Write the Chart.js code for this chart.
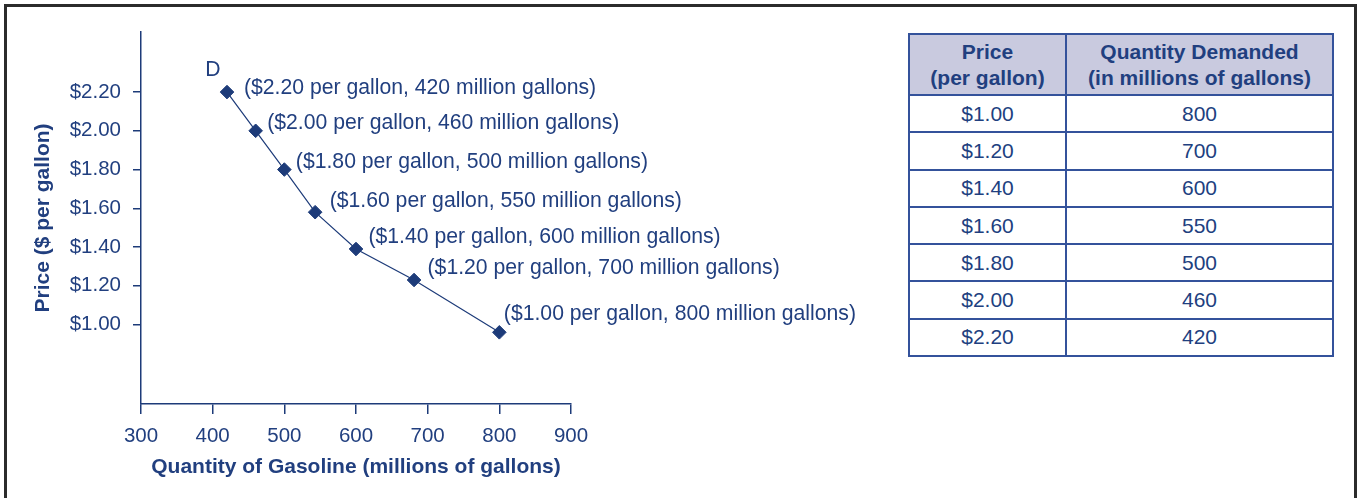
<!DOCTYPE html>
<html>
<head>
<meta charset="utf-8">
<script src="https://cdn.jsdelivr.net/npm/chart.js@4.4.0/dist/chart.umd.min.js"></script>
<style>
html,body{margin:0;padding:0;background:#fff;width:1359px;height:498px;overflow:hidden;}
#frame{position:absolute;left:4px;top:4px;width:1353px;height:600px;border:3px solid #2b2b2b;box-sizing:border-box;}
#wrap{position:absolute;left:0;top:0;width:900px;height:498px;}
#tbl{position:absolute;left:908px;top:33px;width:424px;border-collapse:collapse;table-layout:fixed;
  font-family:"Liberation Sans",Arial,Helvetica,sans-serif;color:#213f7f;font-size:21px;}
#tbl th,#tbl td{border:2px solid #34529b;text-align:center;padding:0;}
#tbl th{background:#c9cadf;font-weight:bold;line-height:26px;height:59px;}
#tbl td{height:35.3px;line-height:24px;}
</style>
</head>
<body>
<div id="frame"></div>
<div id="wrap"><canvas id="c" width="900" height="498"></canvas></div>
<table id="tbl"><colgroup><col style="width:157px"><col style="width:267px"></colgroup><thead></thead><tbody></tbody></table>
<script>
// ---- data ----
const curveName = 'D';
const plotQuantities = [420, 460, 500, 543, 600, 681, 800];   // plotted x positions (millions of gallons)
const plotPrices = [2.20, 2.00, 1.80, 1.58, 1.39, 1.23, 0.96]; // plotted y positions ($ per gallon)
const labelPrices = [2.20, 2.00, 1.80, 1.60, 1.40, 1.20, 1.00];
const labelQuantities = [420, 460, 500, 550, 600, 700, 800];
const xTickValues = [300, 400, 500, 600, 700, 800, 900];
const yTickValues = [1.00, 1.20, 1.40, 1.60, 1.80, 2.00, 2.20];
const tableHeaders = [['Price', '(per gallon)'], ['Quantity Demanded', '(in millions of gallons)']];
const tablePrices = [1.00, 1.20, 1.40, 1.60, 1.80, 2.00, 2.20];
const tableQuantities = [800, 700, 600, 550, 500, 460, 420];
const xTitle = 'Quantity of Gasoline (millions of gallons)';
const yTitle = 'Price ($ per gallon)';

// ---- styles ----
const NAVY = '#213f7f';
const MARK = '#1d3b79';
const FONT = '"Liberation Sans", Arial, Helvetica, sans-serif';
const labelOffsets = [[17, -4], [11.5, -8], [11.5, -7.5], [14.5, -11], [12.5, -12], [13.5, -11.5], [4.5, -18.5]];
const nameOffset = [-14, -22];

// ---- table ----
const thead = document.querySelector('#tbl thead');
thead.innerHTML = '<tr>' + tableHeaders.map(h => '<th>' + h.join('<br>') + '</th>').join('') + '</tr>';
const tbody = document.querySelector('#tbl tbody');
tbody.innerHTML = tablePrices.map((p, i) =>
  '<tr><td>$' + p.toFixed(2) + '</td><td>' + tableQuantities[i] + '</td></tr>').join('');

// ---- chart ----
const labelPlugin = {
  id: 'pointLabels',
  afterDatasetsDraw(chart) {
    const ctx = chart.ctx;
    const meta = chart.getDatasetMeta(0);
    ctx.save();
    ctx.font = '21.2px ' + FONT;
    ctx.fillStyle = NAVY;
    ctx.textBaseline = 'middle';
    ctx.textAlign = 'left';
    meta.data.forEach((pt, i) => {
      const txt = '($' + labelPrices[i].toFixed(2) + ' per gallon, ' + labelQuantities[i] + ' million gallons)';
      ctx.fillText(txt, pt.x + labelOffsets[i][0], pt.y + labelOffsets[i][1]);
    });
    const p0 = meta.data[0];
    ctx.textAlign = 'center';
    ctx.fillText(curveName, p0.x + nameOffset[0], p0.y + nameOffset[1]);
    ctx.restore();
  }
};

new Chart(document.getElementById('c'), {
  type: 'scatter',
  data: {
    datasets: [{
      data: plotQuantities.map((q, i) => ({x: q, y: plotPrices[i]})),
      showLine: true,
      borderColor: MARK,
      borderWidth: 1.2,
      pointStyle: 'rectRot',
      pointRadius: 6.8,
      pointBackgroundColor: MARK,
      pointBorderColor: MARK,
      pointBorderWidth: 1,
      tension: 0
    }]
  },
  options: {
    responsive: false,
    animation: false,
    events: [],
    layout: {padding: {left: 0, top: 32, right: 329, bottom: 0}},
    plugins: {legend: {display: false}, tooltip: {enabled: false}},
    scales: {
      x: {
        type: 'linear', min: 300, max: 900,
        afterBuildTicks: s => { s.ticks = xTickValues.map(v => ({value: v})); },
        afterFit: s => { s.height = 94; },
        grid: {drawOnChartArea: false, drawTicks: true, tickLength: 10, color: MARK, lineWidth: 1.5},
        border: {display: true, color: MARK, width: 1.5},
        ticks: {color: NAVY, font: {family: FONT, size: 20.5}, padding: 10, maxRotation: 0},
        title: {display: true, text: xTitle, color: NAVY, font: {family: FONT, size: 21, weight: 'bold'}, padding: {top: 0, bottom: 18}}
      },
      y: {
        type: 'linear', min: 0.59, max: 2.51,
        afterBuildTicks: s => { s.ticks = yTickValues.map(v => ({value: v})); },
        afterFit: s => { s.width = 141; },
        grid: {drawOnChartArea: false, drawTicks: true, tickLength: 8, color: MARK, lineWidth: 1.5},
        border: {display: true, color: MARK, width: 1.5},
        ticks: {color: NAVY, font: {family: FONT, size: 20.5}, padding: 12, callback: v => '$' + Number(v).toFixed(2)},
        title: {display: true, text: yTitle, color: NAVY, font: {family: FONT, size: 21, weight: 'bold'}, padding: {top: 31, bottom: 0}}
      }
    }
  },
  plugins: [labelPlugin]
});
</script>
</body>
</html>
